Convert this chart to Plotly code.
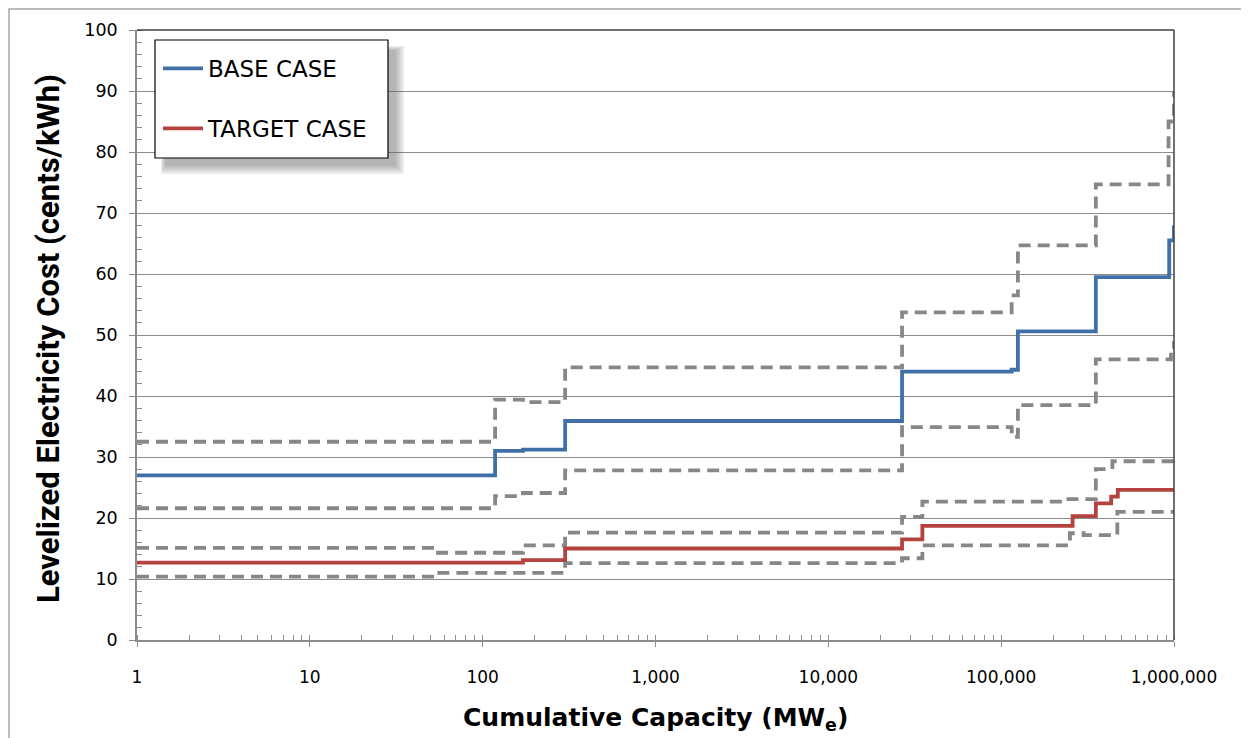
import plotly.graph_objects as go

# ---- data ----
base_x = [1, 118, 171, 300, 26700, 115000, 125000, 353000, 938000, 1000000]
base_y = [27.0, 31.0, 31.2, 35.9, 44.0, 44.3, 50.6, 59.5, 65.5, 68.0]

base_hi_x = [1, 118, 171, 300, 26700, 115000, 125000, 353000, 930000, 1000000]
base_hi_y = [32.5, 39.4, 39.0, 44.7, 53.7, 56.5, 64.7, 74.7, 85.0, 90.0]

base_lo_x = [1, 118, 171, 300, 26700, 115000, 125000, 353000, 960000, 1000000]
base_lo_y = [21.6, 23.6, 24.1, 27.8, 34.9, 33.3, 38.5, 46.0, 47.5, 49.0]

target_x = [1, 171, 300, 26700, 35000, 259000, 353000, 433000, 473000, 1000000]
target_y = [12.7, 13.1, 15.0, 16.5, 18.7, 20.3, 22.4, 23.5, 24.6, 24.6]

target_hi_x = [1, 51, 171, 300, 26700, 35000, 245000, 353000, 440000, 1000000]
target_hi_y = [15.1, 14.3, 15.5, 17.6, 20.2, 22.7, 23.1, 28.0, 29.3, 29.3]

target_lo_x = [1, 51, 300, 26700, 35000, 250000, 300000, 470000, 1000000]
target_lo_y = [10.4, 11.0, 12.6, 13.4, 15.5, 17.5, 17.2, 21.0, 21.0]

x_tickvals = [1, 10, 100, 1000, 10000, 100000, 1000000]
x_ticktext = ["1", "10", "100", "1,000", "10,000", "100,000", "1,000,000"]
y_tickvals = [0, 10, 20, 30, 40, 50, 60, 70, 80, 90, 100]

BLUE = "#4170A8"
RED = "#B4423F"
GRAY = "#878787"
AXC = "#8C8C8C"
FONT = "DejaVu Sans"

fig = go.Figure()

dash_style = dict(color=GRAY, width=3.8, dash="12px,7px", shape="hv")
for xs, ys in [(base_hi_x, base_hi_y), (base_lo_x, base_lo_y),
               (target_hi_x, target_hi_y), (target_lo_x, target_lo_y)]:
    fig.add_trace(go.Scatter(x=xs, y=ys, mode="lines", line=dash_style,
                             showlegend=False, hoverinfo="skip"))

fig.add_trace(go.Scatter(x=base_x, y=base_y, mode="lines", name="BASE CASE",
                         legendgroup="a",
                         line=dict(color=BLUE, width=3.8, shape="hv")))
fig.add_trace(go.Scatter(x=target_x, y=target_y, mode="lines", name="TARGET CASE",
                         legendgroup="b",
                         line=dict(color=RED, width=3.8, shape="hv")))

# page has an 8px body margin; figure is sized so the plot lands where wanted
OFF = 8
W, H = 1249 - OFF, 738 - OFF
PX0, PX1, PY0, PY1 = 137, 1174, 30, 640   # plot area in screen px
L, R, T, B = PX0 - OFF, OFF + W - PX1, PY0 - OFF, OFF + H - PY1
pw, ph = PX1 - PX0, PY1 - PY0


def px_x(p):
    return (p - PX0) / pw


def px_y(p):
    return (PY1 - p) / ph


shapes = [
    # outer chart frame
    dict(type="rect", xref="paper", yref="paper",
         x0=px_x(9), x1=px_x(1262), y0=px_y(9), y1=px_y(752),
         line=dict(color="#A6A6A6", width=1.5), fillcolor="rgba(0,0,0,0)", layer="below"),
    # top & right plot border
    dict(type="line", xref="paper", yref="paper", x0=0, x1=1, y0=1, y1=1,
         line=dict(color="#404040", width=1.5)),
    dict(type="line", xref="paper", yref="paper", x0=1, x1=1, y0=0, y1=1,
         line=dict(color="#404040", width=1.5)),
]
# soft legend shadow (stacked translucent rects)
for k in range(5):
    shapes.append(dict(type="rect", xref="paper", yref="paper",
                       x0=px_x(161 + k), x1=px_x(404 - 2 * k),
                       y0=px_y(46 + k), y1=px_y(174 - 2 * k),
                       line=dict(width=0), fillcolor="rgba(90,90,90,0.11)",
                       layer="above"))
# legend box
shapes.append(dict(type="rect", xref="paper", yref="paper",
                   x0=px_x(155), x1=px_x(388), y0=px_y(40), y1=px_y(158),
                   line=dict(color="black", width=1.2), fillcolor="white",
                   layer="above"))

annotations = [
    dict(text="<b>Cumulative Capacity (MW<sub>e</sub>)</b>", xref="paper", yref="paper",
         x=px_x(655), y=px_y(719), xanchor="center", yanchor="middle", showarrow=False,
         font=dict(family="DejaVu Sans", size=25, color="black")),
    dict(text="<b>Levelized Electricity Cost (cents/kWh)</b>", xref="paper", yref="paper",
         x=px_x(49), y=px_y(339), xanchor="center", yanchor="middle", showarrow=False,
         textangle=-90, font=dict(family="Roboto", size=31, color="black")),
]

fig.update_layout(
    width=W, height=H,
    margin=dict(l=L, r=R, t=T, b=B, autoexpand=False),
    paper_bgcolor="white", plot_bgcolor="white",
    font=dict(family=FONT, color="black"),
    shapes=shapes,
    annotations=annotations,
    legend=dict(x=px_x(158), y=px_y(47), xanchor="left", yanchor="top",
                bgcolor="rgba(0,0,0,0)", borderwidth=0,
                font=dict(family=FONT, size=23, color="black"),
                tracegroupgap=27, itemwidth=40),
    xaxis=dict(type="log", range=[0, 6], tickvals=x_tickvals, ticktext=x_ticktext,
               automargin=False,
               showgrid=False, zeroline=False,
               showline=True, linecolor=AXC, linewidth=1.5,
               ticks="outside", ticklen=5, tickcolor=AXC,
               ticklabelstandoff=16,
               tickfont=dict(family=FONT, size=17, color="black"),
               minor=dict(ticks="inside", ticklen=5, tickcolor=AXC, dtick="D1",
                          showgrid=False)),
    yaxis=dict(range=[0, 100], tickvals=y_tickvals,
               automargin=False,
               showgrid=True, gridcolor=AXC, gridwidth=1,
               zeroline=False,
               showline=True, linecolor=AXC, linewidth=1.5,
               ticks="outside", ticklen=6, tickcolor=AXC,
               ticklabelstandoff=8,
               tickfont=dict(family=FONT, size=17.5, color="black"),
               minor=dict(ticks="inside", ticklen=5, tickcolor=AXC, dtick=2,
                          showgrid=False)),
)

fig.write_html("out.html")
